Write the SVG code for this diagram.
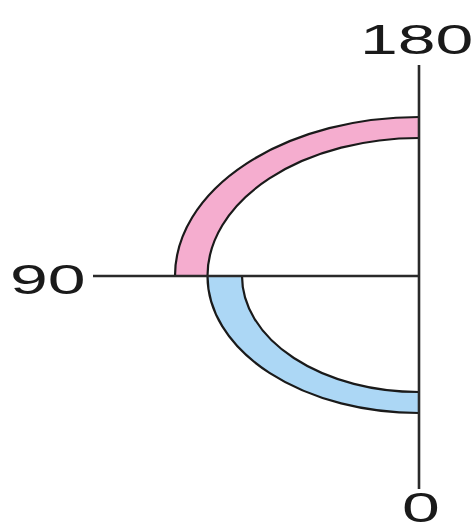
<svg xmlns="http://www.w3.org/2000/svg" width="475" height="532" viewBox="0 0 475 532">
<style>
.lbl{font-family:"Liberation Sans",Arial,sans-serif;font-size:43px;fill:#1a1a1a}
.arc{fill:none;stroke:#1a1a1a;stroke-width:2.2}
.axis{stroke:#2a2a2a;stroke-width:2.6;fill:none}
</style>
<rect width="475" height="532" fill="#ffffff"/>
<g id="band-pink">
<path d="M419,117 A244,159 0 0 0 175,276 L207.5,276 A211.5,138 0 0 1 419,138 Z" fill="#f5adcf"/>
<path class="arc" d="M419,117 A244,159 0 0 0 175,276"/>
<path class="arc" d="M207.5,276 A211.5,138 0 0 1 419,138"/>
</g>
<g id="band-blue">
<path d="M207.5,276 A211.5,137 0 0 0 419,413 L419,392 A177,116 0 0 1 242,276 Z" fill="#acd7f5"/>
<path class="arc" d="M207.5,276 A211.5,137 0 0 0 419,413"/>
<path class="arc" d="M419,392 A177,116 0 0 1 242,276"/>
</g>
<g id="connectors">
<line class="axis" x1="419" y1="65" x2="419" y2="489"/>
<line class="axis" x1="93" y1="276" x2="419" y2="276"/>
</g>
<g id="label-180"><text class="lbl" transform="translate(360,54) scale(1.58,1)">180</text></g>
<g id="label-90"><text class="lbl" transform="translate(10,294) scale(1.58,1)">90</text></g>
<g id="label-0"><text class="lbl" transform="translate(402,522) scale(1.58,1)">0</text></g>
</svg>
